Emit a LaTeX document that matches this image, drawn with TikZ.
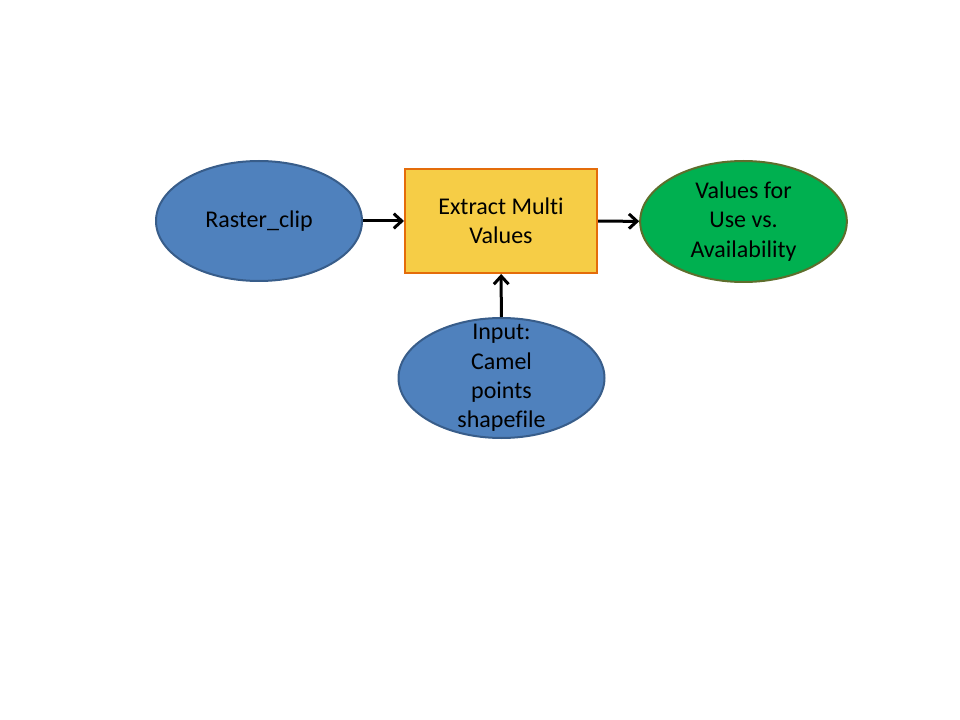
\documentclass[tikz,border=0pt]{standalone}
\usepackage{fontspec}
\setmainfont{Carlito}[Ligatures=NoCommon]
\usetikzlibrary{shapes.geometric,arrows.meta}

\definecolor{datablue}{RGB}{79,129,189}
\definecolor{dataedge}{RGB}{56,93,138}
\definecolor{toolfill}{RGB}{246,205,70}
\definecolor{tooledge}{RGB}{228,108,10}
\definecolor{outfill}{RGB}{0,176,80}
\definecolor{outedge}{RGB}{94,110,44}

\tikzset{
  data/.style={draw=dataedge, fill=datablue, ellipse, line width=1.5pt,
    minimum width=154.5pt, minimum height=90pt, inner sep=0pt, align=center},
  result/.style={draw=outedge, fill=outfill, ellipse, line width=1.5pt,
    minimum width=155pt, minimum height=90.75pt, inner sep=0pt, align=center},
  tool/.style={draw=tooledge, fill=toolfill, rectangle, line width=1.5pt,
    minimum width=144pt, minimum height=78pt, align=center},
  link/.style={-{Straight Barb[length=6pt,width=11pt]}, line width=2.25pt}
}

\begin{document}
\begin{tikzpicture}[x=0.75pt, y=-0.75pt, font=\fontsize{18}{22}\selectfont]
  \useasboundingbox (0,0) rectangle (960,720);
  \node[data] (raster) at (259.00,221.00) {Raster\_clip};
  \node[tool] (extract) at (501.00,221.00) {Extract Multi\\Values};
  \node[result] (values) at (743.50,221.50) {Values for\\Use vs.\\Availability};
  \node[data, label={[align=center]center:Input:\\Camel\\points\\shapefile}] (input) at (501.50,378.00) {};
  \draw[link] (raster) -- (extract);
  \draw[link] (extract) -- (values);
  \draw[link] (input) -- (extract);
\end{tikzpicture}
\end{document}
